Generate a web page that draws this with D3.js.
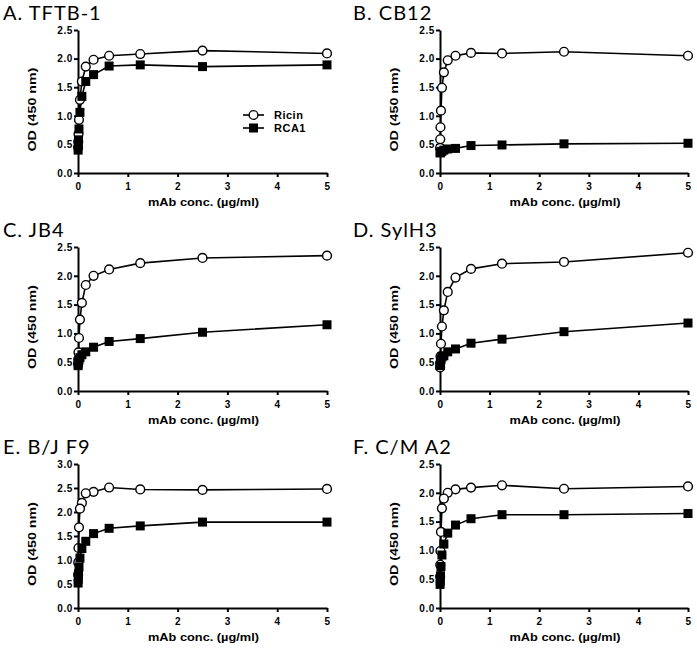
<!DOCTYPE html>
<html><head><meta charset="utf-8">
<script src="https://cdn.jsdelivr.net/npm/d3@7"></script>
<style>body{margin:0;background:#fff}</style>
</head><body>
<svg id="c" width="697" height="648"></svg>
<script>
// concentrations (µg/ml), serial two-fold dilutions
const conc = [5, 2.5, 1.25, 0.625, 0.3125, 0.156, 0.078, 0.039, 0.0195, 0.0098, 0.0049, 0.0024];
const panelTitles = ["A. TFTB-1", "B. CB12", "C. JB4", "D. SylH3", "E. B/J F9", "F. C/M A2"];
const yMaxes = [2.5, 2.5, 2.5, 2.5, 3.0, 2.5];
const xTicks = [0, 1, 2, 3, 4, 5];
const seriesNames = ["Ricin", "RCA1"];
const ricinA = [2.09, 2.14, 2.08, 2.05, 1.98, 1.86, 1.60, 1.28, 0.93, 0.68, 0.55, 0.45];
const rca1A  = [1.89, 1.86, 1.89, 1.87, 1.72, 1.60, 1.34, 1.06, 0.77, 0.58, 0.47, 0.40];
const ricinB = [2.05, 2.12, 2.09, 2.10, 2.05, 1.97, 1.76, 1.49, 1.09, 0.80, 0.59, 0.44];
const rca1B  = [0.52, 0.51, 0.49, 0.48, 0.43, 0.42, 0.40, 0.38, 0.37, 0.36, 0.36, 0.35];
const ricinC = [2.35, 2.31, 2.22, 2.11, 2.00, 1.84, 1.53, 1.24, 0.92, 0.67, 0.55, 0.47];
const rca1C  = [1.15, 1.02, 0.91, 0.86, 0.76, 0.68, 0.63, 0.58, 0.54, 0.51, 0.47, 0.44];
const ricinD = [2.40, 2.24, 2.21, 2.12, 1.97, 1.72, 1.40, 1.12, 0.82, 0.60, 0.48, 0.41];
const rca1D  = [1.18, 1.03, 0.90, 0.83, 0.73, 0.68, 0.61, 0.59, 0.55, 0.50, 0.47, 0.44];
const ricinE = [2.48, 2.46, 2.47, 2.51, 2.42, 2.39, 2.19, 2.07, 1.68, 1.25, 0.95, 0.70];
const rca1E  = [1.79, 1.79, 1.71, 1.66, 1.55, 1.39, 1.24, 1.04, 0.85, 0.71, 0.60, 0.52];
const ricinF = [2.11, 2.07, 2.13, 2.09, 2.06, 2.00, 1.90, 1.73, 1.32, 0.99, 0.75, 0.55];
const rca1F  = [1.64, 1.62, 1.62, 1.55, 1.44, 1.30, 1.11, 0.92, 0.72, 0.56, 0.47, 0.41];
const ricinAll = [ricinA, ricinB, ricinC, ricinD, ricinE, ricinF];
const rca1All = [rca1A, rca1B, rca1C, rca1D, rca1E, rca1F];

const svg = d3.select("#c");
const colL = [78, 440], colR = [327, 688];
const rowT = [30, 247, 464], rowB = [173, 391, 608];
const bold = "Liberation Sans, Arial, sans-serif";

panelTitles.forEach((title, i) => {
  const col = i % 2, row = Math.floor(i / 2);
  const x = d3.scaleLinear().domain([0, 5]).range([colL[col], colR[col]]);
  const yMax = yMaxes[i];
  const y = d3.scaleLinear().domain([0, yMax]).range([rowB[row], rowT[row]]);
  const g = svg.append("g");
  const yTicks = d3.range(0, yMax + 0.001, 0.5);

  // title
  g.append("text").attr("x", col * 350 + 3).attr("y", rowT[row] - 10)
    .attr("font-family", "Lato, Open Sans, sans-serif").attr("font-size", 20)
    .attr("letter-spacing", 1)
    .text(title);

  // axes
  const xa = g.append("g").attr("transform", `translate(0,${rowB[row]})`)
    .call(d3.axisBottom(x).tickValues(xTicks).tickSize(4).tickSizeOuter(0).tickFormat(d3.format("d")));
  const ya = g.append("g").attr("transform", `translate(${colL[col]},0)`)
    .call(d3.axisLeft(y).tickValues(yTicks).tickSize(4).tickSizeOuter(0).tickFormat(d3.format(".1f")));
  [xa, ya].forEach(a => {
    a.selectAll("path").attr("stroke", "#000").attr("stroke-width", 2);
    a.selectAll("line").attr("stroke", "#000").attr("stroke-width", 2);
    a.selectAll("text").attr("font-family", bold).attr("font-weight", "bold")
      .attr("font-size", 10).attr("letter-spacing", 0.6).attr("fill", "#000");
  });
  xa.selectAll("text").attr("dy", "0.95em");
  ya.selectAll("text").attr("dx", "0.2em");

  // axis titles
  g.append("text").attr("transform", `translate(${colL[col] - 42},${(rowT[row] + rowB[row]) / 2 + 8}) rotate(-90)`)
    .attr("text-anchor", "middle").attr("font-family", bold).attr("font-weight", "bold")
    .attr("font-size", 11).attr("textLength", 84).attr("lengthAdjust", "spacingAndGlyphs")
    .text("OD (450 nm)");
  g.append("text").attr("x", (colL[col] + colR[col]) / 2 + 1).attr("y", rowB[row] + 33)
    .attr("text-anchor", "middle").attr("font-family", bold).attr("font-weight", "bold")
    .attr("font-size", 11).attr("textLength", 111).attr("lengthAdjust", "spacingAndGlyphs")
    .text("mAb conc. (\u00b5g/ml)");

  const line = d3.line().x(d => x(d[0])).y(d => y(d[1]));
  const ric = conc.map((c, k) => [c, ricinAll[i][k]]);
  const rca = conc.map((c, k) => [c, rca1All[i][k]]);
  g.append("path").datum(ric).attr("d", line).attr("fill", "none").attr("stroke", "#000").attr("stroke-width", 1.6);
  g.append("path").datum(rca).attr("d", line).attr("fill", "none").attr("stroke", "#000").attr("stroke-width", 1.6);
  g.selectAll(".c").data(ric).enter().append("circle")
    .attr("cx", d => x(d[0])).attr("cy", d => y(d[1])).attr("r", 4.4)
    .attr("fill", "#fff").attr("stroke", "#000").attr("stroke-width", 1.4);
  g.selectAll(".s").data(rca).enter().append("rect")
    .attr("x", d => x(d[0]) - 4.5).attr("y", d => y(d[1]) - 4.5).attr("width", 9).attr("height", 9)
    .attr("fill", "#000");

  if (i === 0) {
    const lg = g.append("g");
    seriesNames.forEach((nm, k) => {
      const ly = 115 + k * 13;
      lg.append("line").attr("x1", 243).attr("x2", 264).attr("y1", ly).attr("y2", ly)
        .attr("stroke", "#000").attr("stroke-width", 1.6);
      if (k === 0) lg.append("circle").attr("cx", 253.5).attr("cy", ly).attr("r", 4.4)
        .attr("fill", "#fff").attr("stroke", "#000").attr("stroke-width", 1.4);
      else lg.append("rect").attr("x", 249).attr("y", ly - 4.5).attr("width", 9).attr("height", 9).attr("fill", "#000");
      lg.append("text").attr("x", 274).attr("y", ly + 4).attr("font-family", bold)
        .attr("font-weight", "bold").attr("font-size", 11).attr("letter-spacing", 0.5).text(nm);
    });
  }
});
</script>
</body></html>
